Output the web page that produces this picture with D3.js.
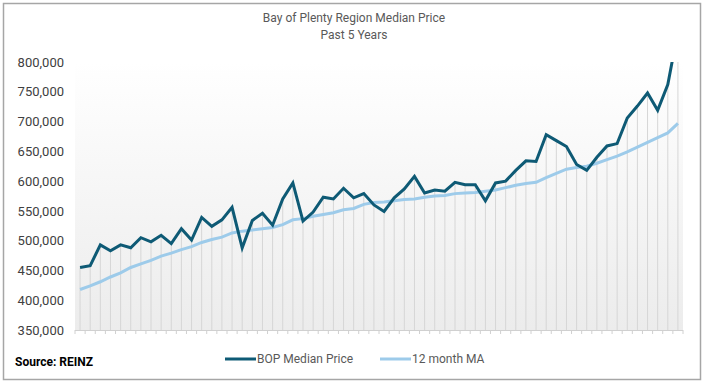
<!DOCTYPE html>
<html>
<head>
<meta charset="utf-8">
<script src="https://cdnjs.cloudflare.com/ajax/libs/d3/7.8.5/d3.min.js"></script>
<style>
  body { margin: 0; background: #fff; }
  svg { display: block; font-family: Roboto, "Open Sans", sans-serif; }
</style>
</head>
<body>
<svg id="chart" width="705" height="385"></svg>
<script>

/////////////////////////////////
// DATA
//////////////////////////////////

// monthly BOP median price, last 5 years (60 months), in dollars
var medianPrice = [
  455000, 458000, 493000, 483000, 493000, 488000, 505000, 498000, 509000, 495000,
  520000, 501000, 539000, 524000, 535000, 556000, 488000, 534000, 546000, 526000,
  570000, 597000, 533000, 548000, 573000, 570000, 588000, 572000, 579000, 560000,
  549000, 572000, 587000, 608000, 580000, 585000, 583000, 598000, 594000, 594000,
  567000, 597000, 600000, 618000, 634000, 633000, 678000, 668000, 658000, 628000,
  618000, 640000, 659000, 663000, 706000, 726000, 748000, 719000, 762000, 852000
];

// 12 month moving average
var movingAvg = [
  418000, 424000, 431000, 439000, 446000, 455000, 461000, 467000, 474000, 479000,
  485000, 490000, 497000, 502000, 506000, 513000, 516000, 518000, 520000, 522000,
  527000, 535000, 537000, 541000, 544000, 547000, 552000, 554000, 561000, 564000,
  565000, 567000, 569000, 570000, 573000, 575000, 576000, 579000, 580000, 581000,
  583000, 585000, 589000, 593000, 596000, 598000, 606000, 613000, 620000, 623000,
  625000, 630000, 636000, 642000, 649000, 657000, 665000, 673000, 681000, 697000
];

var yTicks = [350000, 400000, 450000, 500000, 550000, 600000, 650000, 700000, 750000, 800000];

var seriesNames = ["BOP Median Price", "12 month MA"];
var seriesColors = ["#0e5a75", "#9dcbea"];


/////////////////////////////////
// LAYOUT
//////////////////////////////////

var svg = d3.select("#chart");

var plot = {left: 75, right: 683, top: 62, bottom: 330};

var x = d3.scaleBand()
  .domain(d3.range(medianPrice.length))
  .range([plot.left, plot.right]);

var y = d3.scaleLinear()
  .domain([350000, 800000])
  .range([plot.bottom, plot.top]);

function cx(i) { return x(i) + x.bandwidth() / 2; }

// outer frame
svg.append("rect")
  .attr("x", 3.5)
  .attr("y", 3.5)
  .attr("width", 697)
  .attr("height", 376)
  .attr("fill", "#fff")
  .attr("stroke", "#a6a6a6")
  .attr("stroke-width", 1.5);

// plot background gradient (white at top, light grey at bottom)
var defs = svg.append("defs");
var grad = defs.append("linearGradient")
  .attr("id", "bg")
  .attr("x1", 0).attr("y1", 0)
  .attr("x2", 0).attr("y2", 1);
grad.append("stop").attr("offset", "0%").attr("stop-color", "#ffffff");
grad.append("stop").attr("offset", "100%").attr("stop-color", "#ececec");

defs.append("clipPath")
  .attr("id", "clip")
  .append("rect")
    .attr("x", plot.left)
    .attr("y", plot.top)
    .attr("width", plot.right - plot.left)
    .attr("height", plot.bottom - plot.top);

svg.append("rect")
  .attr("x", plot.left)
  .attr("y", plot.top)
  .attr("width", plot.right - plot.left)
  .attr("height", plot.bottom - plot.top)
  .attr("fill", "url(#bg)");


/////////////////////////////////
// TITLE
//////////////////////////////////

svg.append("text")
  .attr("x", 354)
  .attr("y", 22)
  .attr("text-anchor", "middle")
  .attr("fill", "#595959")
  .attr("font-size", 12)
  .text("Bay of Plenty Region Median Price");

svg.append("text")
  .attr("x", 354)
  .attr("y", 39)
  .attr("text-anchor", "middle")
  .attr("fill", "#595959")
  .attr("font-size", 12)
  .text("Past 5 Years");


/////////////////////////////////
// AXES
//////////////////////////////////

var yAxis = svg.append("g")
  .attr("transform", "translate(" + 64 + ",0)")
  .call(d3.axisLeft(y)
    .tickValues(yTicks)
    .tickFormat(d3.format(","))
    .tickSize(0)
    .tickPadding(0));

yAxis.select(".domain").remove();
yAxis.selectAll("text")
  .attr("fill", "#404040")
  .attr("font-size", 13)
  .attr("font-family", "Roboto, sans-serif");

// drop lines from the median price down to the axis
var g = svg.append("g").attr("clip-path", "url(#clip)");

g.selectAll(".drop")
  .data(medianPrice)
  .enter()
  .append("line")
    .attr("class", "drop")
    .attr("x1", function(d, i) { return cx(i); })
    .attr("x2", function(d, i) { return cx(i); })
    .attr("y1", function(d) { return y(d); })
    .attr("y2", plot.bottom)
    .attr("stroke", "#d6d6d6")
    .attr("stroke-width", 1);

// x axis line + ticks between categories
svg.append("line")
  .attr("x1", plot.left)
  .attr("x2", plot.right)
  .attr("y1", plot.bottom + 0.5)
  .attr("y2", plot.bottom + 0.5)
  .attr("stroke", "#d0d0d0");

var tickPos = d3.range(medianPrice.length + 1).map(function(i) {
  return plot.left + i * x.step();
});

svg.selectAll(".xtick")
  .data(tickPos)
  .enter()
  .append("line")
    .attr("class", "xtick")
    .attr("x1", function(d) { return d; })
    .attr("x2", function(d) { return d; })
    .attr("y1", plot.bottom)
    .attr("y2", plot.bottom + 4)
    .attr("stroke", "#d0d0d0");


/////////////////////////////////
// LINES
//////////////////////////////////

var line = d3.line()
  .x(function(d, i) { return cx(i); })
  .y(function(d) { return y(d); });

g.append("path")
  .datum(movingAvg)
  .attr("d", line)
  .attr("fill", "none")
  .attr("stroke", seriesColors[1])
  .attr("stroke-width", 3);

g.append("path")
  .datum(medianPrice)
  .attr("d", line)
  .attr("fill", "none")
  .attr("stroke", seriesColors[0])
  .attr("stroke-width", 3)
  .attr("stroke-linejoin", "miter");


/////////////////////////////////
// LEGEND + SOURCE
//////////////////////////////////

var legendX = [225, 380];

seriesNames.forEach(function(name, i) {
  svg.append("line")
    .attr("x1", legendX[i])
    .attr("x2", legendX[i] + 31)
    .attr("y1", 359)
    .attr("y2", 359)
    .attr("stroke", seriesColors[i])
    .attr("stroke-width", 3);
  svg.append("text")
    .attr("x", legendX[i] + 32)
    .attr("y", 363)
    .attr("fill", "#595959")
    .attr("font-size", 12)
    .text(name);
});

svg.append("text")
  .attr("x", 15)
  .attr("y", 366)
  .attr("fill", "#000")
  .attr("font-size", 12)
  .attr("font-weight", "bold")
  .text("Source: REINZ");

</script>
</body>
</html>
